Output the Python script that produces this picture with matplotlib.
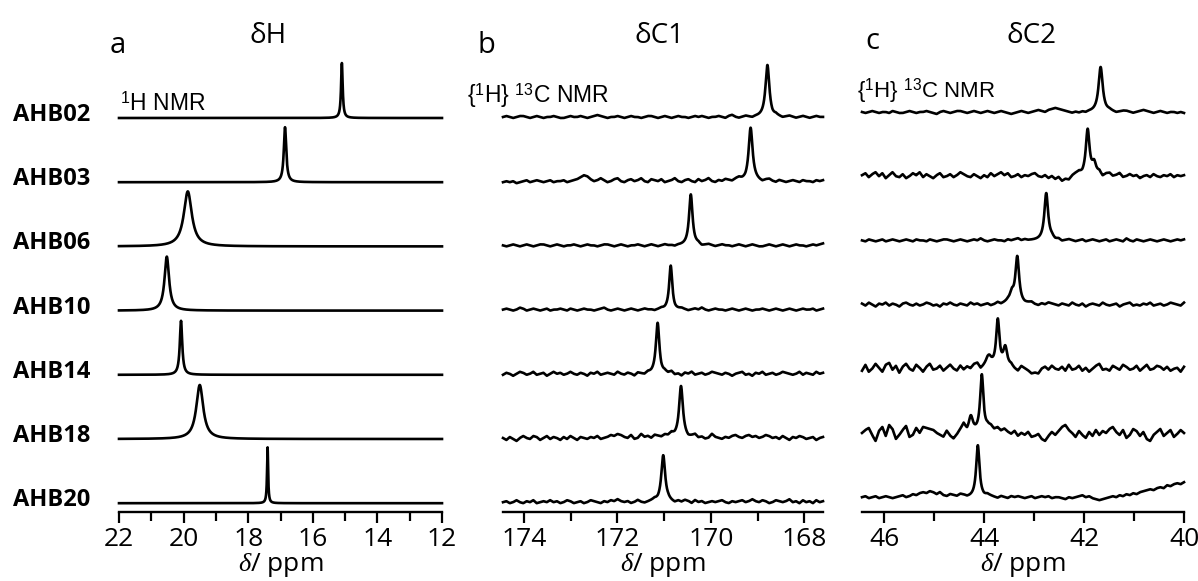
import numpy as np
from matplotlib import pyplot as plt
from matplotlib.ticker import MultipleLocator

plt.rcParams['font.family'] = ['Open Sans', 'DejaVu Sans']
plt.rcParams['mathtext.fontset'] = 'custom'
plt.rcParams['mathtext.rm'] = 'Liberation Sans'
plt.rcParams['mathtext.it'] = 'Liberation Serif:italic'

samples = ['AHB02', 'AHB03', 'AHB06', 'AHB10', 'AHB14', 'AHB18', 'AHB20']

# 1H NMR peaks: shift (ppm), FWHM (ppm), height (px)
h_shift = [15.10, 16.86, 19.87, 20.52, 20.08, 19.50, 17.40]
h_fwhm = [0.06, 0.09, 0.30, 0.17, 0.09, 0.26, 0.04]
h_height = [55, 55, 55, 54, 54, 54, 56]

# 13C carbonyl (dC1) peaks
c1_shift = [168.79, 169.15, 170.43, 170.86, 171.14, 170.64, 171.02]
c1_fwhm = [0.10, 0.10, 0.09, 0.08, 0.09, 0.10, 0.10]
c1_height = [52, 52, 51, 44, 51, 52, 47]

# 13C dC2 peaks (main peak + shoulders)
c2_shift = [[41.67], [41.93, 41.80], [42.76], [43.34, 43.45],
            [43.73, 43.58, 43.90], [44.05, 44.27], [44.13]]
c2_fwhm = [[0.10], [0.09, 0.10], [0.09], [0.09, 0.10],
           [0.08, 0.10, 0.14], [0.08, 0.10], [0.08]]
c2_height = [[45], [46, 12], [47], [47, 10], [47, 20, 10], [58, 16], [52]]

# baseline noise (px), left (high ppm) to right
c1_noise = [
    [0,1,0,-1,0,1,1,0,-1,0,1,0, -1,0,0,1,0,-1,-1,0,1,0,0,1, 0,-1,0,1,2,1,0,-1,0,0,1,0,
     -1,0,1,0,0,-1,0,1,1,0,-1,0, 1,0,-1,0,1,0,0,-1,0,1,0,1, 0,-1,0,0,1,0,-1,1,2,0,-1,0,
     1,0,-1,0,0,0,0,0,-1,1,0,-1, 0,1,0,-1,0,1,0,-1,0,1,0,0],
    [-1,0,-1,0,-2,-1,0,1,-1,0,1,0, -1,0,1,-1,0,0,1,-1,0,1,2,4, 6,5,2,0,1,3,1,-1,0,2,3,0,
     -1,1,2,0,1,3,0,-1,2,1,0,2, -1,0,1,3,0,-1,1,2,0,-1,2,0, 1,3,0,-1,1,0,2,1,0,2,3,1,
     0,1,2,1,0,-1,1,2,0,-1,1,0, -1,0,1,0,-1,1,0,0,-1,1,0,1],
    [0,-1,0,1,0,-1,0,1,0,-1,0,1, 1,0,-1,0,1,0,-1,0,0,1,0,-1, 0,1,0,0,-1,0,1,1,0,-1,0,1,
     0,-1,0,0,1,0,-1,0,1,0,-1,0, 1,0,0,-1,0,0,0,0,0,0,1,-1, 0,1,0,-1,0,1,0,0,-1,0,1,0,
     -1,0,1,0,-1,-1,0,1,0,-1,0,1, 0,-1,0,1,0,0,-1,0,1,0,1,2],
    [0,1,0,-1,0,2,1,-1,0,1,0,-1, 0,1,-1,0,0,1,0,-1,1,0,-1,0, 1,0,0,-1,0,1,2,0,-1,0,1,0,
     -1,0,1,0,-1,0,1,0,0,-1,0,1, 0,0,0,-1,0,1,0,-1,0,1,0,2, 0,-1,0,1,0,0,-1,0,1,0,-1,0,
     1,0,-1,0,0,1,0,-1,0,1,0,-1, 0,1,0,-1,0,1,0,0,1,-1,0,1],
    [-1,1,0,-2,0,2,1,-1,0,2,-1,0, 1,-2,0,2,0,1,-1,0,2,0,-1,1, 0,-2,1,0,2,-1,0,1,0,-1,2,0,
     -1,1,0,-2,1,0,-1,1,0,0,0,-1, 1,0,2,-1,0,-2,1,0,2,-1,0,1, -1,0,2,1,0,-1,1,0,-2,0,1,2,
     -1,0,-2,1,0,2,-1,0,1,-1,0,2, 1,0,-1,0,2,-1,1,0,-1,2,0,1],
    [0,-2,1,-1,-3,0,2,0,-1,2,1,-2, 0,2,-1,1,0,-2,1,-1,2,0,-2,1, 0,-1,1,0,2,-1,0,1,3,2,4,3,
     1,0,3,-1,0,4,1,2,0,3,2,1, 3,2,4,1,0,0,0,-1,1,3,0,1, -1,0,4,1,0,-1,1,0,2,3,1,0,
     2,3,1,2,0,1,3,2,0,1,-1,2, 0,-2,1,0,2,1,-1,0,1,-2,0,1],
    [0,1,-1,0,2,0,-1,1,0,2,-1,0, 1,0,2,0,1,-1,0,2,1,-1,0,1, -1,0,2,1,0,-1,1,0,2,1,3,1,
     0,1,-1,0,2,0,-1,0,1,2,0,0, 0,1,0,-1,1,0,2,1,-1,2,0,1, -1,0,1,0,1,2,0,-1,1,0,1,2,
     0,1,3,1,0,2,1,-1,0,2,1,0, 1,3,0,1,-1,2,0,1,-1,2,0,1],
]
c2_noise = [
    [0,-1,0,1,0,-1,0,0,-1,1,0,-1, -1,0,1,0,-1,0,0,1,0,-1,-2,0, 1,0,-1,0,1,1,0,-1,0,1,0,-1,
     0,1,0,-1,0,1,0,-1,-2,-1,0,1, 0,-1,0,1,2,1,0,2,3,4,3,2, 1,0,-1,0,-1,0,-1,0,0,0,0,0,
     0,1,0,-1,0,1,1,0,-1,0,1,2, 1,0,-1,0,1,0,-1,0,0,-1,0,-1],
    [1,3,-1,2,4,0,3,-2,1,4,0,-1, 2,-2,0,3,1,4,-1,2,0,-2,1,3, -1,0,2,-1,1,4,2,0,-1,2,0,-2,
     1,-1,3,0,2,4,1,3,-1,0,2,-1, 1,0,2,3,0,-1,1,-2,0,-3,-1,-5, -3,-4,0,2,3,0,0,0,0,0,3,-1,
     2,3,0,1,3,-1,0,2,0,1,-2,0, 1,-1,2,0,-1,1,0,2,-1,1,0,1],
    [0,-1,1,0,-1,0,1,-1,0,1,0,-1, 0,1,0,-1,1,0,0,-1,1,0,-1,0, 1,1,0,-1,0,1,0,-1,0,1,0,2,
     0,-1,0,1,0,0,-1,1,0,1,2,0, 1,0,0,0,0,0,0,1,2,0,1,-1, 0,1,0,-1,0,1,-1,0,1,0,-1,0,
     1,-1,0,1,0,-1,2,0,-1,1,0,-1, 0,1,0,-1,0,1,0,-1,0,1,0,1],
    [1,-1,2,0,-2,1,0,2,-1,1,0,-2, 1,2,0,-1,1,-1,0,2,1,-1,0,-2, 1,0,2,0,-1,1,0,-1,2,0,1,-1,
     0,1,-1,0,2,0,1,2,0,0,0,0, 0,1,2,0,-1,1,0,2,1,0,-1,1, 0,-1,2,0,-1,1,-2,0,1,0,-1,2,
     0,-1,0,1,-2,0,1,2,-1,0,-1,1, 0,2,-1,0,1,-1,0,2,1,0,-1,2],
    [-2,4,-3,0,5,1,-3,4,6,-1,3,-4, 2,5,0,-2,4,1,-3,2,5,-1,0,3, -2,1,4,0,-2,3,-1,2,0,4,5,-1,
     1,3,0,0,0,0,0,0,2,-1,-3,2, 0,-2,-5,-4,-5,0,2,-1,3,0,-1,2, -2,4,-1,0,3,-2,1,-3,0,3,5,-1,
     0,-2,3,1,-1,4,2,-1,0,3,-2,1, 4,-1,0,3,2,-1,2,-2,0,1,-3,2],
    [0,3,5,-2,-8,2,6,-3,8,4,-6,-2, 3,7,-4,-2,5,0,6,5,4,3,0,-2, -4,2,-3,-6,-2,3,8,0,0,0,0,0,
     0,5,6,3,5,2,4,1,-1,2,-3,0, -2,1,-4,-3,-1,-6,-8,-3,1,-2,2,6, 8,3,0,-4,2,-2,-5,1,-3,3,-2,2,
     0,4,6,1,-2,3,-5,-2,4,2,-3,1, -6,-8,-2,1,4,-3,0,3,-4,-1,3,0],
    [0,1,-1,0,1,-1,0,1,0,-1,0,1, 2,0,1,3,2,4,5,4,6,5,3,5, 2,1,3,2,1,3,2,0,0,0,0,0,
     0,2,1,0,-1,1,0,-1,1,0,1,0, -1,0,1,-1,0,1,0,1,-1,0,0,-1, -2,0,-1,0,1,2,0,1,-1,-2,-3,-2,
     -1,0,1,0,2,1,3,2,4,3,5,6, 7,8,7,9,10,9,12,11,13,14,13,15],
]

h_lim = (22, 12)
c1_lim = (174.45, 167.6)
c2_lim = (46.45, 40.0)
spacing = 64.2
LW = 1.9


def lorentz(x, x0, fwhm, h):
    return h / (1 + ((x - x0) / (fwhm / 2)) ** 2)


W, H = 1198, 581
fig = plt.figure(figsize=(W / 100, H / 100), dpi=100)


def make_ax(left, right, lim, ticks_major):
    ax = fig.add_axes([left / W, 69 / H, (right - left) / W, 472 / H])
    ax.set_xlim(*lim)
    ax.set_ylim(-394, 78)
    for s in ['top', 'left', 'right']:
        ax.spines[s].set_visible(False)
    ax.spines['bottom'].set_linewidth(1.7)
    ax.set_yticks([])
    ax.xaxis.set_major_locator(MultipleLocator(ticks_major))
    ax.xaxis.set_minor_locator(MultipleLocator(ticks_major / 2))
    ax.tick_params(axis='x', which='major', length=8, width=1.6, labelsize=19, pad=3)
    ax.tick_params(axis='x', which='minor', length=6.5, width=1.6)
    ax.set_xlabel(r'$\delta$/ ppm', fontsize=19, labelpad=-1)
    return ax


ax_a = make_ax(119, 442, h_lim, 2)
ax_b = make_ax(503, 823, c1_lim, 2)
ax_c = make_ax(862, 1184, c2_lim, 2)

# panel a: 1H
x = np.linspace(h_lim[0], h_lim[1], 4000)
for i in range(len(samples)):
    y = lorentz(x, h_shift[i], h_fwhm[i], h_height[i]) - spacing * i
    ax_a.plot(x, y, color='black', lw=LW, clip_on=False)

# panel b: 13C C1
for i in range(len(samples)):
    xn = np.linspace(c1_lim[0], c1_lim[1], len(c1_noise[i]))
    xf = np.linspace(c1_lim[0], c1_lim[1], 3000)
    base = np.interp(xf, xn[::-1], np.array(c1_noise[i], float)[::-1])
    y = base + lorentz(xf, c1_shift[i], c1_fwhm[i], c1_height[i]) - spacing * i + 1
    ax_b.plot(xf, y, color='black', lw=LW, clip_on=False)

# panel c: 13C C2
for i in range(len(samples)):
    xn = np.linspace(c2_lim[0], c2_lim[1], len(c2_noise[i]))
    xf = np.linspace(c2_lim[0], c2_lim[1], 3000)
    base = np.interp(xf, xn[::-1], np.array(c2_noise[i], float)[::-1])
    y = base - spacing * i + 6
    for p, w, h in zip(c2_shift[i], c2_fwhm[i], c2_height[i]):
        y = y + lorentz(xf, p, w, h)
    ax_c.plot(xf, y, color='black', lw=LW, clip_on=False)


def ftext(px, py, s, **kw):
    fig.text(px / W, 1 - py / H, s, **kw)


for i, name in enumerate(samples):
    ftext(13, 115 + spacing * i, name, fontsize=17, fontweight='bold', va='center', ha='left')

ftext(110, 53, 'a', fontsize=21, va='baseline')
ftext(478, 53, 'b', fontsize=21, va='baseline')
ftext(865, 49, 'c', fontsize=21, va='baseline')

ftext(268, 43, 'δH', fontsize=20, va='baseline', ha='center')
ftext(659, 43, 'δC1', fontsize=20, va='baseline', ha='center')
ftext(1032, 43, 'δC2', fontsize=20, va='baseline', ha='center')

ftext(120, 111, r'$^{1}$H NMR', fontsize=16.5, family='Liberation Sans', va='baseline')
ftext(467, 103, r'{$^{1}$H} $^{13}$C NMR', fontsize=16.5, family='Liberation Sans', va='baseline')
ftext(857, 97, r'{$^{1}$H} $^{13}$C NMR', fontsize=16, family='Liberation Sans', va='baseline')

fig.savefig('out.png', dpi=100, facecolor='white')
